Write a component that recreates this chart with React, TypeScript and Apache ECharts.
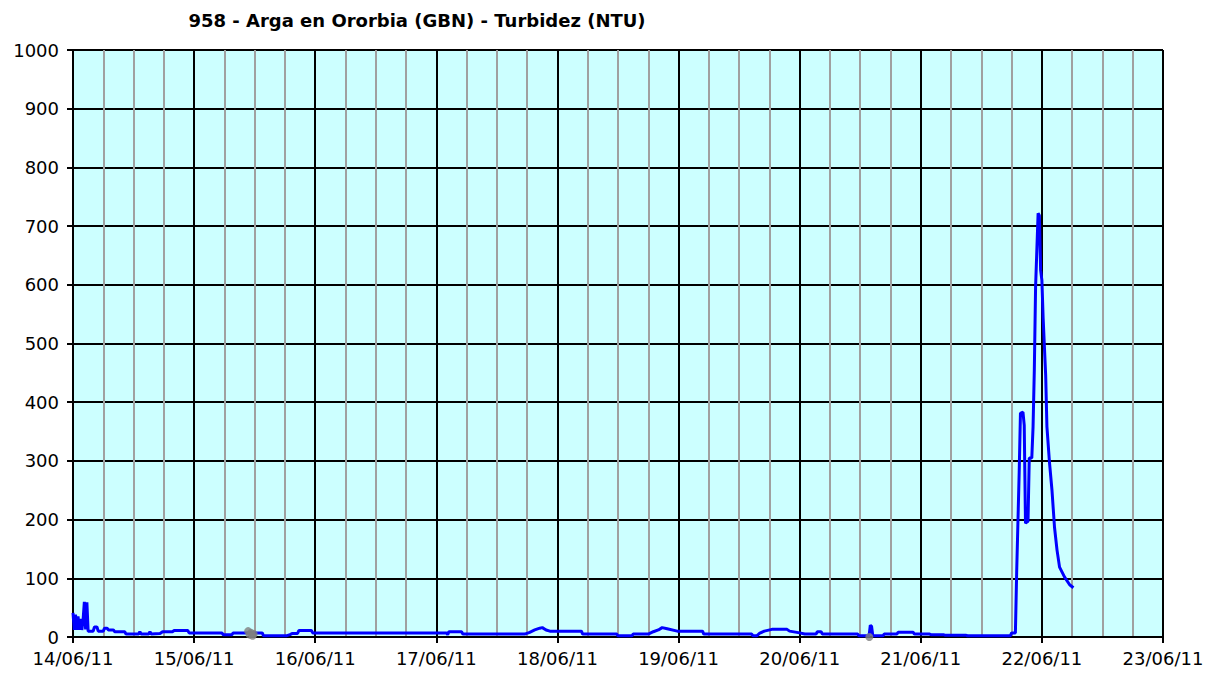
import React, { useEffect, useRef } from "react";
import * as echarts from "echarts";

const TITLE = "958 - Arga en Ororbia (GBN) - Turbidez (NTU)";
const START_DAY = 14; // 14/06/11
const END_HOUR = 216; // 23/06/11 00:00

// hours elapsed since 14/06/11 00:00
const hours = [
  0.0, 0.25, 0.5, 0.75, 1.0, 1.25, 1.5, 1.75, 2.0, 2.25, 2.5, 2.75, 3.0,
  4.0, 4.25, 4.75, 5.0, 6.0, 6.25, 6.75, 7.0, 8.0, 8.25, 10.25, 10.5,
  13.0, 13.25, 13.5, 15.0, 15.25, 15.5, 17.25, 17.75, 19.75, 20.0, 22.75, 23.0,
  29.5, 29.75, 31.5, 31.75, 37.5, 37.75, 42.25, 43.0, 43.5, 44.5, 44.75, 47.25, 47.5,
  74.0, 74.25, 74.5, 77.0, 77.25, 89.5, 90.5, 91.5, 92.5, 93.0, 93.75, 94.5,
  100.75, 101.0, 107.75, 108.0, 110.75, 111.0, 114.0, 115.0, 116.0, 116.75, 117.75,
  119.75, 124.75, 125.0, 134.5, 134.75, 135.5, 136.0, 137.0, 138.5, 141.5, 142.0,
  144.0, 145.0, 147.25, 147.5, 148.25, 148.5, 155.5, 155.75, 157.75, 158.0, 158.25,
  158.5, 160.5, 160.75, 163.25, 163.5, 166.5, 166.75, 169.75, 170.0, 172.5, 172.75,
  177.0, 177.25, 185.75, 186.0, 186.75, 187.0, 187.5, 187.75, 188.25, 188.5, 188.75,
  189.25, 189.5, 190.0, 190.25, 190.5, 190.75, 191.0, 191.25, 191.5, 191.75, 192.0,
  192.25, 192.75, 193.0, 193.5, 194.0, 194.5, 195.0, 195.5, 196.5, 197.5, 198.25,
];

// turbidity, NTU
const turbidity = [
  41, 12, 38, 12, 35, 12, 31, 12, 29, 60, 13, 59, 10,
  10, 17, 17, 10, 10, 15, 15, 12, 12, 9, 9, 5,
  5, 9, 5, 5, 9, 5, 6, 9, 9, 11, 11, 7,
  7, 4, 4, 7, 7, 2, 2, 4, 6, 6, 11, 11, 7,
  7, 4, 9, 9, 5, 5, 8, 12, 15, 16, 12, 10,
  10, 5, 5, 2, 2, 5, 5, 9, 12, 16, 14,
  10, 10, 5, 5, 2, 2, 6, 10, 13, 13, 10,
  7, 5, 5, 9, 9, 5, 5, 2, 2, 20, 18,
  2, 2, 5, 5, 8, 8, 5, 5, 4, 4, 3,
  3, 2, 2, 7, 7, 109, 280, 381, 383, 361, 194,
  197, 305, 305, 358, 455, 596, 659, 722, 718, 625, 608,
  543, 446, 358, 298, 250, 187, 148, 119, 102, 89, 84,
];

// grey markers (flagged readings)
const flaggedHours = [34.7, 35.0, 35.3, 35.6, 35.8, 157.8];
const flaggedValues = [10, 4, 7, 2, 5, 0];

const FONT = "DejaVu Sans";

export default function App() {
  const ref = useRef<HTMLDivElement>(null);

  useEffect(() => {
    if (!ref.current) return;
    const chart = echarts.init(ref.current, null, { renderer: "svg" });
    chart.setOption({
      animation: false,
      backgroundColor: "#ffffff",
      graphic: [
        {
          type: "text",
          x: 417,
          y: 20,
          style: {
            text: TITLE,
            font: `bold 18px "${FONT}"`,
            fill: "#000000",
            textAlign: "center",
            textVerticalAlign: "middle",
            align: "center",
            verticalAlign: "middle",
          },
        },
      ],
      grid: {
        left: 73,
        right: 58,
        top: 50,
        bottom: 42,
        show: true,
        backgroundColor: "#ccffff",
        borderColor: "#808080",
        borderWidth: 1,
        outerBoundsMode: "none",
      },
      xAxis: {
        type: "value",
        min: 0,
        max: END_HOUR,
        interval: 24,
        axisLine: { show: true, onZero: false, lineStyle: { color: "#000", width: 2 } },
        axisTick: { show: true, length: 6, lineStyle: { color: "#000", width: 2 } },
        axisLabel: {
          margin: 12,
          color: "#000",
          fontFamily: FONT,
          fontSize: 18,
          showMinLabel: true,
          showMaxLabel: true,
          formatter: (v: number) => {
            const d = START_DAY + Math.round(v / 24);
            return `${String(d).padStart(2, "0")}/06/11`;
          },
        },
        splitLine: { show: true, lineStyle: { color: "#000", width: 2 } },
        minorTick: { show: false, splitNumber: 4 },
        minorSplitLine: { show: true, lineStyle: { color: "#a0a0a0", width: 2 } },
      },
      yAxis: {
        type: "value",
        min: 0,
        max: 1000,
        interval: 100,
        axisLine: { show: true, lineStyle: { color: "#000", width: 2 } },
        axisTick: { show: true, length: 6, lineStyle: { color: "#000", width: 2 } },
        axisLabel: {
          margin: 14,
          color: "#000",
          fontFamily: FONT,
          fontSize: 18,
          formatter: (v: number) => String(v),
        },
        splitLine: { show: true, lineStyle: { color: "#000", width: 2 } },
      },
      series: [
        {
          type: "line",
          data: hours.map((h, i) => [h, turbidity[i]]),
          showSymbol: false,
          symbol: "none",
          lineStyle: { color: "#0000ff", width: 3 },
          z: 3,
        },
        {
          type: "scatter",
          data: flaggedHours.map((h, i) => [h, flaggedValues[i]]),
          symbol: "circle",
          symbolSize: 8,
          itemStyle: { color: "#808080" },
          z: 4,
          clip: false,
        },
      ],
    });
    return () => chart.dispose();
  }, []);

  return (
    <div
      ref={ref}
      style={{ position: "fixed", left: 0, top: 0, width: 1221, height: 679 }}
    />
  );
}
